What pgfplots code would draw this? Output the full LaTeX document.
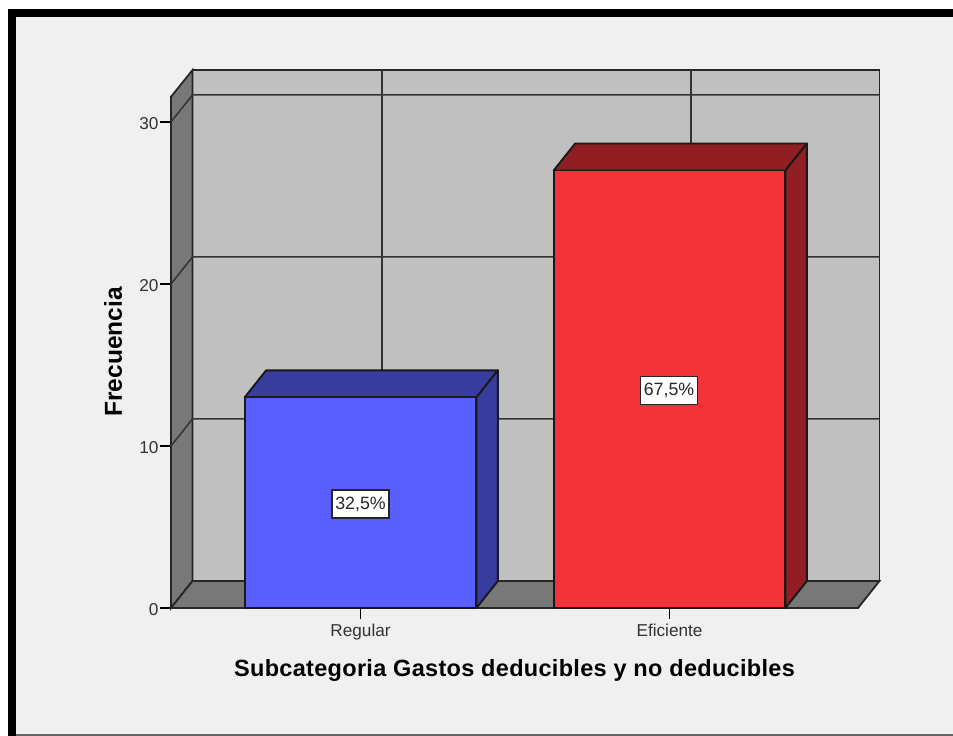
\documentclass[border=0pt]{standalone}
\usepackage{fontspec}
\setmainfont{Liberation Sans}
\newfontfamily\titlefont[LetterSpace=1.3]{Liberation Sans}
\usepackage{pgfplots}
\pgfplotsset{compat=1.18}
\definecolor{bgc}{HTML}{F0F0F0}
\definecolor{wall}{HTML}{C0C0C0}
\definecolor{side}{HTML}{787878}
\definecolor{blueF}{HTML}{5A60FF}
\definecolor{blueD}{HTML}{383C9C}
\definecolor{redF}{HTML}{F2333A}
\definecolor{redD}{HTML}{911E22}
\begin{document}
\begin{tikzpicture}[x=1pt,y=1pt]
\useasboundingbox (0,0) rectangle (953,736);
\fill[white] (0,0) rectangle (953,736);
\fill[black] (8,0) rectangle (953,727);
\fill[bgc] (16,0) rectangle (953,719);
\fill[black!60] (16,0) rectangle (953,1.5);
\begin{axis}[
  at={(171pt,128pt)}, anchor=south west,
  scale only axis, width=687pt, height=512pt,
  xmin=-0.6133, xmax=1.61, ymin=0, ymax=31.6,
  clip=false,
  axis x line=bottom, axis y line=left,
  axis line style={-, black, line width=1.9pt},
  tick align=outside,
  major tick length=11pt,
  tick style={black, line width=1.5pt},
  xtick={0,1}, xticklabels={Regular,Eficiente},
  ytick={0,10,20,30},
  /pgf/number format/assume math mode=true,
  ticklabel style={font=\fontsize{17.2}{19}\selectfont, text=black!80},
  yticklabel style={xshift=2pt, yshift=-2pt},
  xticklabel style={yshift=-1.5pt},
  every axis x label/.style={at={(axis description cs:0.5,0)},anchor=center,yshift=-62pt},
  every axis y label/.style={at={(axis description cs:0,0.5)},anchor=center,rotate=90,yshift=58pt},
  xlabel={\fontsize{23.5}{26}\titlefont\bfseries Subcategoria Gastos deducibles y no deducibles},
  ylabel={\fontsize{24.5}{26}\selectfont\bfseries Frecuencia},
]
% walls and floor
\addplot[draw=black!85, line width=1.8pt, fill=wall] coordinates {(-0.5437,1.667) (1.6796,1.667) (1.6796,33.2) (-0.5437,33.2)} -- cycle;
\addplot[draw=black!85, line width=1.8pt, fill=side] coordinates {(-0.6133,0) (-0.5437,1.667) (-0.5437,33.2) (-0.6133,31.55)} -- cycle;
\addplot[draw=black!85, line width=1.8pt, fill=side] coordinates {(-0.6133,0) (1.61,0) (1.6796,1.667) (-0.5437,1.667)} -- cycle;
% grid
\addplot[black!80, line width=1.5pt] coordinates {(-0.6133,10) (-0.5437,11.667) (1.6796,11.667)};
\addplot[black!80, line width=1.5pt] coordinates {(-0.6133,20) (-0.5437,21.667) (1.6796,21.667)};
\addplot[black!80, line width=1.5pt] coordinates {(-0.6133,30) (-0.5437,31.667) (1.6796,31.667)};
\addplot[black!80, line width=1.5pt] coordinates {(0.0696,1.667) (0.0696,33.2)};
\addplot[black!80, line width=1.5pt] coordinates {(1.0696,1.667) (1.0696,33.2)};
% Regular = 13
\addplot[draw=black!90, line width=1.9pt, line join=round, fill=blueD] coordinates {(-0.375,13) (0.375,13) (0.4446,14.667) (-0.3054,14.667)} -- cycle;
\addplot[draw=black!90, line width=1.9pt, line join=round, fill=blueD] coordinates {(0.375,0) (0.4446,1.667) (0.4446,14.667) (0.375,13)} -- cycle;
\addplot[draw=black!90, line width=1.9pt, line join=round, fill=blueF] coordinates {(-0.375,0) (0.375,0) (0.375,13) (-0.375,13)} -- cycle;
% Eficiente = 27
\addplot[draw=black!90, line width=1.9pt, line join=round, fill=redD] coordinates {(0.625,27) (1.375,27) (1.4446,28.667) (0.6946,28.667)} -- cycle;
\addplot[draw=black!90, line width=1.9pt, line join=round, fill=redD] coordinates {(1.375,0) (1.4446,1.667) (1.4446,28.667) (1.375,27)} -- cycle;
\addplot[draw=black!90, line width=1.9pt, line join=round, fill=redF] coordinates {(0.625,0) (1.375,0) (1.375,27) (0.625,27)} -- cycle;
% percentage labels
\node[draw=black!85, line width=1.5pt, fill=white, inner sep=0pt, minimum width=57pt, minimum height=28pt, font=\fontsize{17.8}{19}\selectfont, text=black!85] at (axis cs:0,6.42) {32,5\%};
\node[draw=black!85, line width=1.5pt, fill=white, inner sep=0pt, minimum width=57pt, minimum height=28pt, font=\fontsize{17.8}{19}\selectfont, text=black!85] at (axis cs:0.9985,13.42) {67,5\%};
\end{axis}
\end{tikzpicture}
\end{document}
